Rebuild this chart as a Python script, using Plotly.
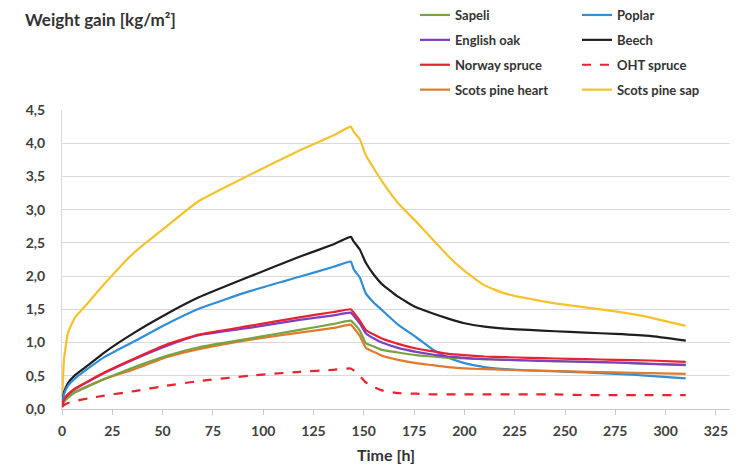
import plotly.graph_objects as go

# Time points [h]
time_h = [0, 1, 3, 6.5, 13, 21, 36, 52, 68, 93, 118, 135, 143.5, 145, 148, 151, 155, 159,
          167, 176, 184, 192, 200, 210, 220, 232, 245, 260, 275, 292, 310]

sapeli = [0.05, 0.11, 0.17, 0.25, 0.34, 0.45, 0.63, 0.80, 0.93, 1.06, 1.19, 1.28, 1.33, 1.29, 1.18, 0.99,
          0.94, 0.89, 0.85, 0.81, 0.79, 0.77, 0.76, 0.75, 0.74, 0.73, 0.72, 0.71, 0.70, 0.68, 0.67]
poplar = [0.07, 0.22, 0.35, 0.46, 0.61, 0.78, 1.02, 1.28, 1.51, 1.77, 1.99, 2.14, 2.22, 2.10, 1.98, 1.74,
          1.60, 1.49, 1.27, 1.08, 0.90, 0.77, 0.69, 0.63, 0.60, 0.58, 0.57, 0.55, 0.53, 0.50, 0.46]
english_oak = [0.06, 0.14, 0.22, 0.30, 0.41, 0.54, 0.75, 0.95, 1.11, 1.22, 1.34, 1.41, 1.45, 1.40, 1.29, 1.14,
               1.06, 1.00, 0.92, 0.86, 0.82, 0.79, 0.77, 0.75, 0.74, 0.73, 0.72, 0.71, 0.70, 0.68, 0.66]
beech = [0.08, 0.25, 0.39, 0.51, 0.66, 0.85, 1.15, 1.43, 1.68, 1.99, 2.29, 2.48, 2.59, 2.52, 2.40, 2.20,
         2.02, 1.88, 1.69, 1.53, 1.44, 1.36, 1.29, 1.24, 1.21, 1.19, 1.17, 1.15, 1.13, 1.10, 1.03]
norway_spruce = [0.06, 0.14, 0.22, 0.31, 0.42, 0.55, 0.76, 0.97, 1.12, 1.25, 1.38, 1.46, 1.50, 1.45, 1.33, 1.19,
                 1.12, 1.06, 0.98, 0.91, 0.87, 0.83, 0.81, 0.79, 0.78, 0.77, 0.76, 0.75, 0.74, 0.73, 0.71]
oht_spruce = [0.03, 0.06, 0.09, 0.12, 0.16, 0.20, 0.27, 0.35, 0.42, 0.50, 0.56, 0.59, 0.61, 0.58, 0.50, 0.40,
              0.33, 0.28, 0.24, 0.23, 0.22, 0.22, 0.22, 0.22, 0.22, 0.22, 0.22, 0.21, 0.21, 0.21, 0.21]
scots_heart = [0.05, 0.12, 0.19, 0.26, 0.35, 0.45, 0.60, 0.78, 0.90, 1.04, 1.15, 1.22, 1.27, 1.22, 1.10, 0.92,
               0.86, 0.80, 0.74, 0.69, 0.66, 0.63, 0.61, 0.60, 0.59, 0.58, 0.57, 0.56, 0.55, 0.54, 0.53]
scots_sap = [0.08, 0.75, 1.15, 1.38, 1.60, 1.88, 2.36, 2.75, 3.13, 3.52, 3.89, 4.12, 4.25, 4.17, 4.06, 3.82,
             3.62, 3.43, 3.10, 2.82, 2.56, 2.30, 2.08, 1.86, 1.74, 1.66, 1.59, 1.53, 1.47, 1.38, 1.25]

x_ticks = [0, 25, 50, 75, 100, 125, 150, 175, 200, 225, 250, 275, 300, 325]
y_ticks = [0.0, 0.5, 1.0, 1.5, 2.0, 2.5, 3.0, 3.5, 4.0, 4.5]

series = [
    ("Sapeli", sapeli, "#77A443", "solid", "legend"),
    ("English oak", english_oak, "#7E3FC4", "solid", "legend"),
    ("Norway spruce", norway_spruce, "#E8222E", "solid", "legend"),
    ("Scots pine heart", scots_heart, "#E27A2C", "solid", "legend"),
    ("Poplar", poplar, "#2F8ED6", "solid", "legend2"),
    ("Beech", beech, "#1E1E1E", "solid", "legend2"),
    ("OHT spruce", oht_spruce, "#E8222E", "dash", "legend2"),
    ("Scots pine sap", scots_sap, "#F5C22B", "solid", "legend2"),
]
draw_order = ["Scots pine sap", "Beech", "Poplar", "Scots pine heart", "Sapeli",
              "English oak", "Norway spruce", "OHT spruce"]
lookup = {s[0]: s for s in series}
names = [s[0] for s in series]

fig = go.Figure()
for name in draw_order:
    _, vals, col, dash, leg = lookup[name]
    fig.add_trace(go.Scatter(
        x=time_h, y=vals, mode="lines", name="<b>" + name + "</b>",
        line=dict(color=col, width=2.2, dash=dash, shape="spline", smoothing=0.4),
        legend=leg, legendgroup=name, legendrank=names.index(name),
    ))

# The page body adds an 8px offset; work in screen pixels and compensate.
OFF = 8
W, H = 738 - OFF, 465 - OFF
L = 62 - OFF           # screen x of the y axis
T = 110 - OFF          # screen y of the top gridline
BOT = 409 - OFF        # screen y of the x axis
Rr = 730 - OFF         # screen x of right plot edge
B = H - BOT
R = W - Rr
pw, ph = Rr - L, BOT - T

def px_x(p):
    return (p - OFF - L) / pw

def px_y(p):
    return (BOT - (p - OFF)) / ph

legend_common = dict(
    orientation="v", xanchor="left", yanchor="top", bgcolor="rgba(0,0,0,0)",
    font=dict(family="Lato", size=13, color="#333333"),
    traceorder="grouped", tracegroupgap=5, itemwidth=30,
)

fig.update_layout(
    width=W, height=H,
    margin=dict(l=L, r=R, t=T, b=B, autoexpand=False),
    paper_bgcolor="white", plot_bgcolor="white",
    separators=",.",
    font=dict(family="Lato", color="#404040"),
    showlegend=True,
    legend=dict(x=px_x(415), y=px_y(0), **legend_common),
    legend2=dict(x=px_x(577), y=px_y(0), **legend_common),
    xaxis=dict(
        range=[0, 332], tickvals=x_ticks, ticktext=["<b>%d</b>" % v for v in x_ticks],
        showgrid=False, showline=True, linecolor="#C8C8C8", linewidth=1,
        ticks="outside", ticklen=5, tickcolor="#C8C8C8", ticklabelstandoff=4,
        tickfont=dict(family="Lato", size=14, color="#404040"),
        zeroline=False, automargin=False,
    ),
    yaxis=dict(
        range=[0, 4.5], tickvals=y_ticks,
        ticktext=["<b>%s</b>" % ("%.1f" % v).replace(".", ",") for v in y_ticks],
        showgrid=True, gridcolor="#D9D9D9", gridwidth=1,
        showline=True, linecolor="#D9D9D9", linewidth=1,
        ticks="", ticklabelstandoff=13,
        tickfont=dict(family="Lato", size=14, color="#404040"),
        zeroline=False, automargin=False,
    ),
    annotations=[
        dict(text="<b>Weight gain [kg/m²]</b>", xref="paper", yref="paper",
             x=px_x(24), y=px_y(OFF), xanchor="left", yanchor="top", showarrow=False,
             borderpad=0, font=dict(family="Lato", size=17, color="#333333")),
        dict(text="<b>Time [h]</b>", xref="paper", yref="paper",
             x=px_x(386), y=px_y(455), xanchor="center", yanchor="middle", showarrow=False,
             font=dict(family="Lato", size=16, color="#333333")),
    ],
)

fig.write_html("out.html")
